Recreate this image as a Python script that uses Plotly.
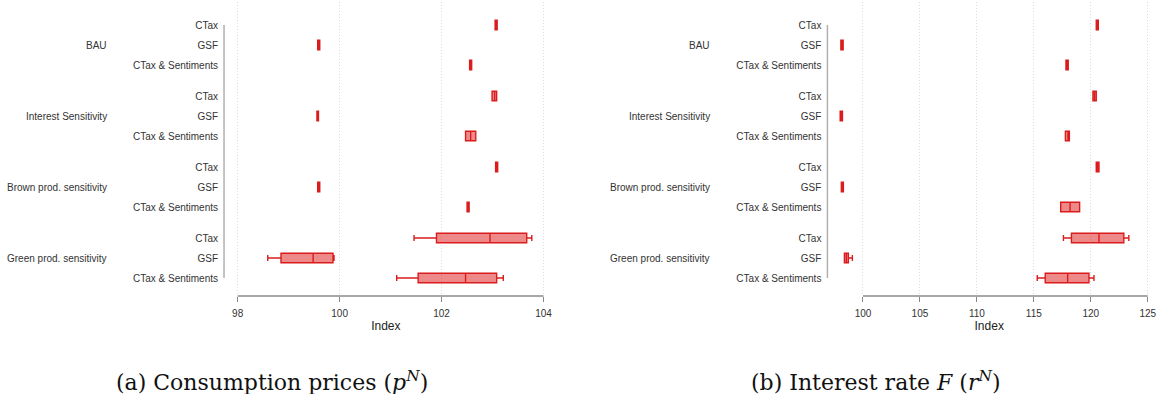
import plotly.graph_objects as go

groups = ["BAU", "Interest Sensitivity", "Brown prod. sensitivity", "Green prod. sensitivity"]
policies = ["CTax", "GSF", "CTax & Sentiments"]

# Panel (a): consumption prices, order: group x policy
a_low = [103.05, 99.57, 102.55, 102.99, 99.555, 102.47, 103.06, 99.57, 102.50, 101.46, 98.59, 101.12]
a_q1 = [103.05, 99.57, 102.55, 102.99, 99.555, 102.47, 103.06, 99.57, 102.50, 101.90, 98.85, 101.54]
a_med = [103.07, 99.59, 102.57, 103.04, 99.57, 102.57, 103.08, 99.59, 102.52, 102.95, 99.48, 102.47]
a_q3 = [103.09, 99.61, 102.59, 103.08, 99.585, 102.67, 103.10, 99.61, 102.54, 103.67, 99.87, 103.08]
a_high = [103.09, 99.61, 102.59, 103.08, 99.585, 102.67, 103.10, 99.61, 102.54, 103.77, 99.89, 103.21]

# Panel (b): interest rate F
b_low = [120.48, 98.06, 117.82, 120.19, 98.0, 117.77, 120.48, 98.1, 117.36, 117.6, 98.37, 115.3]
b_q1 = [120.48, 98.06, 117.82, 120.19, 98.0, 117.77, 120.48, 98.1, 117.36, 118.3, 98.37, 116.0]
b_med = [120.57, 98.16, 117.92, 120.33, 98.10, 118.0, 120.6, 98.19, 118.18, 120.72, 98.54, 117.97]
b_q3 = [120.66, 98.26, 118.02, 120.48, 98.2, 118.12, 120.72, 98.28, 119.02, 122.9, 98.72, 119.84]
b_high = [120.66, 98.26, 118.02, 120.48, 98.2, 118.12, 120.72, 98.28, 119.02, 123.34, 99.07, 120.28]

a_ticks = [98, 100, 102, 104]
b_ticks = [100, 105, 110, 115, 120, 125]

x_title = "Index"
caption_a = "(a) Consumption prices (<i>p</i><sup><i>N</i></sup>)"
caption_b = "(b) Interest rate <i>F</i> (<i>r</i><sup><i>N</i></sup>)"

W, H = 1161, 394
GAP = 3.55
pos = [g * GAP + i for g in range(len(groups)) for i in range(len(policies))]
labels = [p for g in groups for p in policies]

LINE = "rgb(218,28,28)"
FILL = "rgba(224,44,44,0.56)"


def fx(px):
    return px / W


def fy(py):
    return (H - py) / H


fig = go.Figure()
for low, q1, med, q3, high, xa, ya in [
    (a_low, a_q1, a_med, a_q3, a_high, "x", "y"),
    (b_low, b_q1, b_med, b_q3, b_high, "x2", "y2"),
]:
    fig.add_trace(go.Box(
        y=pos, q1=q1, median=med, q3=q3, lowerfence=low, upperfence=high,
        orientation="h", xaxis=xa, yaxis=ya, width=0.47, whiskerwidth=0.65,
        line=dict(color=LINE, width=1.4), fillcolor=FILL, boxpoints=False,
        showlegend=False, hoverinfo="skip",
    ))

y_top_px, y_bot_px = 2, 296
row0_px, row_px = 25, 20
yr = [(y_bot_px - row0_px) / row_px, (y_top_px - row0_px) / row_px]
ydom = [fy(y_bot_px), fy(y_top_px)]


def px2val(px, ref_px, ref_val, scale):
    return ref_val + (px - ref_px) / scale


a_scale = 51.2
b_scale = 11.44
a_range = [px2val(225, 238.7, 98, a_scale), px2val(550, 238.7, 98, a_scale)]
b_range = [px2val(831, 866.7, 100, b_scale), px2val(1156, 866.7, 100, b_scale)]

axis_font = dict(family="Liberation Sans, Arial, sans-serif", size=10, color="#333")

for xname, yname, rng, ticks, dom in [
    ("xaxis", "yaxis", a_range, a_ticks, [fx(225), fx(550)]),
    ("xaxis2", "yaxis2", b_range, b_ticks, [fx(831), fx(1156)]),
]:
    yid = "y" if yname == "yaxis" else "y2"
    xid = "x" if xname == "xaxis" else "x2"
    fig.update_layout({
        xname: dict(domain=dom, range=rng, anchor=yid, tickvals=ticks,
                    ticks="outside", ticklen=5, tickcolor="#888", tickwidth=1,
                    showgrid=True, gridcolor="#dcdcdc", griddash="1px,2px", gridwidth=1,
                    zeroline=False, showline=False, tickfont=axis_font, ticklabelstandoff=3,
                    title=dict(text=x_title, font=dict(family="Liberation Sans, Arial, sans-serif", size=12, color="#222"), standoff=3)),
        yname: dict(domain=ydom, range=yr, anchor=xid, tickvals=pos, ticktext=labels,
                    ticks="", showgrid=False, zeroline=False, showline=False,
                    tickfont=axis_font, ticklabelstandoff=5),
    })
    fig.add_shape(type="line", xref=f"{xid} domain", yref=yid, x0=0, x1=0,
                  y0=pos[0], y1=pos[-1], line=dict(color="#b0b0b0", width=1.5))
    fig.add_shape(type="line", xref=xid, yref=f"{yid} domain", x0=ticks[0], x1=ticks[-1],
                  y0=0, y1=0, line=dict(color="#8a8a8a", width=1.5))
    gx = fx(109 if xid == "x" else 715)
    for g, name in enumerate(groups):
        fig.add_annotation(text=name, xref="paper", yref=yid, x=gx, y=g * GAP + 1,
                           xanchor="right", yanchor="middle", showarrow=False, font=axis_font)

cap_font = dict(family="DejaVu Serif, serif", size=22, color="#111")
fig.add_annotation(text=caption_a, xref="paper", yref="paper", x=fx(273), y=fy(381),
                   xanchor="center", yanchor="middle", showarrow=False, font=cap_font)
fig.add_annotation(text=caption_b, xref="paper", yref="paper", x=fx(880), y=fy(381),
                   xanchor="center", yanchor="middle", showarrow=False, font=cap_font)

fig.update_layout(width=W, height=H, margin=dict(l=0, r=0, t=0, b=0),
                  paper_bgcolor="white", plot_bgcolor="white")

fig.write_html("out.html", config={"displayModeBar": False},
               post_script="document.body.style.margin='0';document.body.style.overflow='hidden';")
